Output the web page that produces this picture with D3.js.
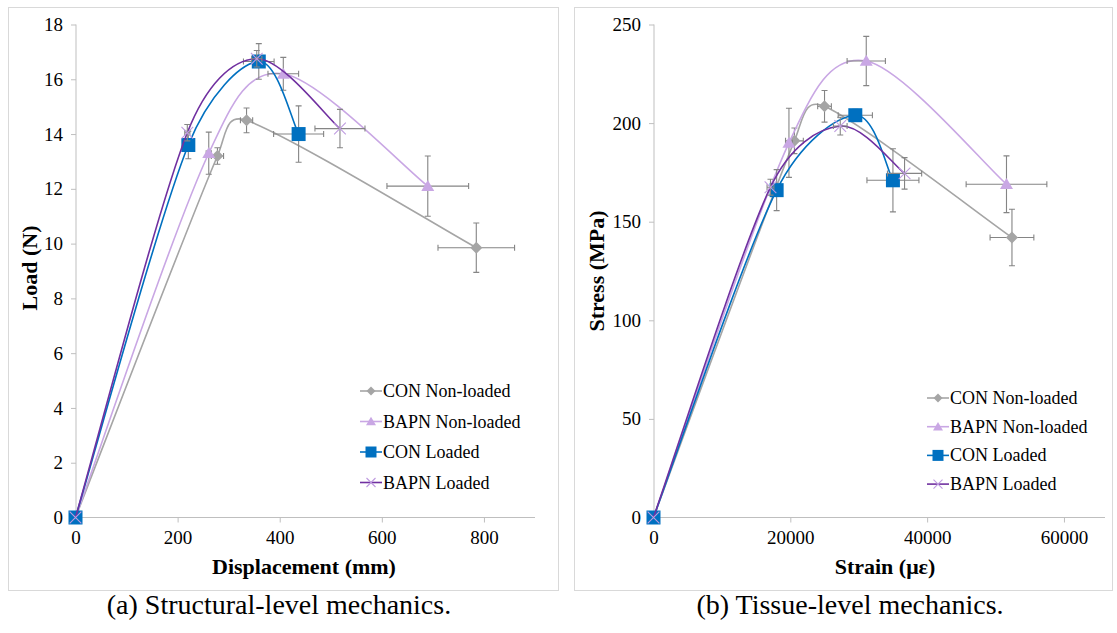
<!DOCTYPE html>
<html lang="en">
<head>
<meta charset="UTF-8">
<title>Structural and tissue-level mechanics</title>
<script src="https://cdn.jsdelivr.net/npm/d3@7"></script>
<style>
  body { margin: 0; background: #fff; }
  svg text { font-family: "Liberation Serif", "Times New Roman", serif; fill: #000; }
</style>
</head>
<body>
<svg width="1117" height="633"></svg>
<script>
// series names shared by both panels
const seriesNames = ["CON Non-loaded", "BAPN Non-loaded", "CON Loaded", "BAPN Loaded"];

// (a) structural level: displacement (mm) vs load (N)
const dispX   = [[0, 278, 335, 785], [0, 261, 407, 690], [0, 221, 359, 437], [0, 219, 355, 518]];
const loadY   = [[0, 13.2, 14.5, 9.85], [0, 13.3, 16.2, 12.1], [0, 13.6, 16.65, 14.0], [0, 14.05, 16.75, 14.2]];
const dispErr = [[0, 12, 12, 75], [0, 5, 30, 80], [0, 5, 30, 49], [0, 5, 10, 49]];
const loadErr = [[0, 0.3, 0.45, 0.9], [0, 0.77, 0.6, 1.1], [0, 0.5, 0.65, 1.03], [0, 0.3, 0.3, 0.7]];
const dispTicks = [0, 200, 400, 600, 800];
const loadTicks = [0, 2, 4, 6, 8, 10, 12, 14, 16, 18];

// (b) tissue level: strain (microstrain) vs stress (MPa)
const strainX   = [[0, 20600, 25000, 52400], [0, 19800, 31100, 51600], [0, 18000, 29500, 35000], [0, 17100, 27300, 36700]];
const stressY   = [[0, 191, 208.5, 142], [0, 190, 231.5, 169], [0, 166, 204, 171], [0, 167.5, 198.5, 174.5]];
const strainErr = [[0, 1300, 1000, 3200], [0, 500, 2800, 5900], [0, 500, 2500, 3800], [0, 500, 1000, 2500]];
const stressErr = [[0, 6.5, 8, 14.3], [0, 17.5, 12.5, 14.4], [0, 10.4, 3, 16], [0, 4, 4.5, 8]];
const strainTicks = [0, 20000, 40000, 60000];
const stressTicks = [0, 50, 100, 150, 200, 250];

const colors = ["#a5a5a5", "#c9a7e4", "#0070c0", "#7030a0"];
const markerColors = ["#a5a5a5", "#c9a7e4", "#0070c0", "#bf9be0"];
const shapes = ["diamond", "triangle", "square", "cross"];

const svg = d3.select("svg");

// excel-like smoothed line: bezier arms = min(chord/6, half segment)
function smoothPath(pts) {
  const p = d3.path();
  const dist = (a, b) => Math.hypot(b[0] - a[0], b[1] - a[1]);
  p.moveTo(pts[0][0], pts[0][1]);
  for (let i = 0; i < pts.length - 1; i++) {
    const p0 = pts[i - 1] || pts[i], p1 = pts[i], p2 = pts[i + 1], p3 = pts[i + 2] || pts[i + 1];
    const d12 = dist(p1, p2), d02 = dist(p0, p2), d13 = dist(p1, p3);
    const f1 = d02 / 6 < d12 / 2 ? 1 / 6 : d12 / (2 * d02);
    const f2 = d13 / 6 < d12 / 2 ? 1 / 6 : d12 / (2 * d13);
    p.bezierCurveTo(p1[0] + (p2[0] - p0[0]) * f1, p1[1] + (p2[1] - p0[1]) * f1,
                    p2[0] - (p3[0] - p1[0]) * f2, p2[1] - (p3[1] - p1[1]) * f2,
                    p2[0], p2[1]);
  }
  return p.toString();
}

function marker(g, shape, color, x, y, s) {
  let d;
  const h = s / 2;
  if (shape === "cross") {
    const r = s * 0.45;
    g.append("path").attr("d", `M${x - r},${y - r}L${x + r},${y + r}M${x - r},${y + r}L${x + r},${y - r}`)
      .attr("stroke", color).attr("stroke-width", 1.1).attr("fill", "none");
    return;
  }
  if (shape === "diamond") d = `M${x},${y - h}L${x + h},${y}L${x},${y + h}L${x - h},${y}Z`;
  if (shape === "triangle") d = `M${x},${y - h * 0.95}L${x + h},${y + h * 0.75}L${x - h},${y + h * 0.75}Z`;
  if (shape === "square") d = `M${x - h},${y - h}h${s}v${s}h${-s}Z`;
  g.append("path").attr("d", d).attr("fill", color);
}

function panel(o) {
  const g = svg.append("g");
  g.append("rect").attr("x", o.frame[0] + 0.5).attr("y", 7.5).attr("width", o.frame[1] - o.frame[0])
    .attr("height", 583).attr("fill", "#fff").attr("stroke", "#d9d9d9");

  const x = d3.scaleLinear().domain(o.xDomain).range([o.x0, o.x1]);
  const y = d3.scaleLinear().domain(o.yDomain).range([517.5, 24.5]);

  // axes
  g.append("g").attr("transform", "translate(0,517.5)")
    .call(d3.axisBottom(x).tickValues(o.xTicks).tickSize(5).tickPadding(8).tickFormat(d3.format("d")))
    .call(a => a.select(".domain").attr("stroke", "#bfbfbf").attr("d", `M${o.x0},0H${o.x1}`))
    .call(a => a.selectAll(".tick line").attr("stroke", "#bfbfbf"))
    .call(a => a.selectAll("text").attr("font-size", 19).attr("font-family", "Liberation Serif"));
  g.append("g").attr("transform", `translate(${o.x0 + 0.5},0)`)
    .call(d3.axisLeft(y).tickValues(o.yTicks).tickSize(5).tickPadding(8).tickFormat(d3.format("d")))
    .call(a => a.select(".domain").attr("stroke", "#bfbfbf").attr("d", "M0,24.5V517.5"))
    .call(a => a.selectAll(".tick line").attr("stroke", "#bfbfbf"))
    .call(a => a.selectAll("text").attr("font-size", 19).attr("font-family", "Liberation Serif"));

  g.append("text").attr("x", o.xTitleX).attr("y", 574).attr("text-anchor", "middle")
    .attr("font-size", 22).attr("font-weight", "bold").text(o.xTitle);
  g.append("text").attr("transform", `translate(${o.yTitleX},${o.yTitleY}) rotate(-90)`)
    .attr("text-anchor", "middle").attr("font-size", 22).attr("font-weight", "bold").text(o.yTitle);

  o.xs.forEach((xs, i) => {
    const pts = xs.map((v, j) => [x(v), y(o.ys[i][j])]);
    g.append("path").attr("d", smoothPath(pts)).attr("fill", "none")
      .attr("stroke", colors[i]).attr("stroke-width", 1.6);
    // error bars
    const eb = g.append("g").attr("stroke", "#858585").attr("stroke-width", 1.1);
    xs.forEach((v, j) => {
      const ex = o.xe[i][j], ey = o.ye[i][j], vy = o.ys[i][j];
      if (ey > 0) {
        const px = x(v), ya = y(vy + ey), yb = y(vy - ey);
        eb.append("path").attr("d", `M${px},${ya}V${yb}M${px - 3},${ya}H${px + 3}M${px - 3},${yb}H${px + 3}`);
      }
      if (ex > 0) {
        const py = y(vy), xa = x(v - ex), xb = x(v + ex);
        eb.append("path").attr("d", `M${xa},${py}H${xb}M${xa},${py - 3}V${py + 3}M${xb},${py - 3}V${py + 3}`);
      }
    });
    pts.forEach(p => marker(g, shapes[i], markerColors[i], p[0], p[1], [12, 13, 14, 13][i]));
  });

  // legend
  seriesNames.forEach((n, i) => {
    const ly = o.legY + i * o.legStep;
    g.append("line").attr("x1", o.legX - 11).attr("x2", o.legX + 11).attr("y1", ly).attr("y2", ly)
      .attr("stroke", colors[i]).attr("stroke-width", 1.6);
    marker(g, shapes[i], markerColors[i], o.legX, ly, [9, 10, 11, 10][i]);
    g.append("text").attr("x", o.legX + 12).attr("y", ly + 6).attr("font-size", 18).text(n);
  });

  svg.append("text").attr("x", o.capX).attr("y", 614)
    .attr("text-anchor", "middle").attr("font-size", 28).text(o.caption);
}

panel({
  frame: [8, 558], x0: 75.5, x1: 535, xDomain: [0, 900], yDomain: [0, 18],
  xTicks: dispTicks, yTicks: loadTicks,
  xs: dispX, ys: loadY, xe: dispErr, ye: loadErr,
  xTitle: "Displacement (mm)", xTitleX: 304, yTitle: "Load (N)", yTitleX: 37, yTitleY: 268,
  legX: 371, legY: 391, legStep: 30.5,
  caption: "(a) Structural-level mechanics.", capX: 279
});

panel({
  frame: [574, 1112], x0: 653.5, x1: 1105, xDomain: [0, 66000], yDomain: [0, 250],
  xTicks: strainTicks, yTicks: stressTicks,
  xs: strainX, ys: stressY, xe: strainErr, ye: stressErr,
  xTitle: "Strain (με)", xTitleX: 885, yTitle: "Stress (MPa)", yTitleX: 604, yTitleY: 271,
  legX: 938, legY: 398, legStep: 28.7,
  caption: "(b) Tissue-level mechanics.", capX: 850
});
</script>
</body>
</html>
